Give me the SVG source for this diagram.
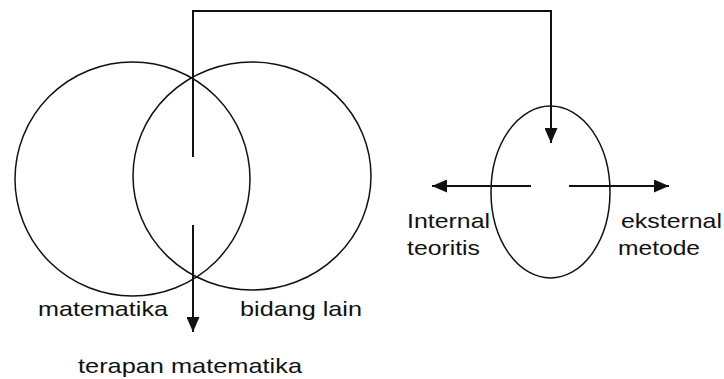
<svg xmlns="http://www.w3.org/2000/svg" width="724" height="379" viewBox="0 0 724 379">
<defs>
<style>
.shape{fill:none;stroke:#111;stroke-width:1.5}
.conn{fill:none;stroke:#111;stroke-width:2}
text{font-family:"Liberation Sans",Arial,sans-serif;font-size:21px;fill:#111}
</style>
<marker id="arr" markerUnits="userSpaceOnUse" markerWidth="15" markerHeight="13" refX="15" refY="6.5" orient="auto">
<path d="M0,0 L15,6.5 L0,13 z" fill="#111"/>
</marker>
</defs>
<rect width="724" height="379" fill="#fff"/>
<g id="matematika">
<ellipse class="shape" cx="132.5" cy="179" rx="117.5" ry="117"/>
<text x="38" y="316" textLength="130" lengthAdjust="spacingAndGlyphs">matematika</text>
</g>
<g id="bidang-lain">
<ellipse class="shape" cx="252" cy="176" rx="119" ry="114"/>
<text x="240" y="316" textLength="122" lengthAdjust="spacingAndGlyphs">bidang lain</text>
</g>
<g id="terapan">
<text x="78" y="373" textLength="224" lengthAdjust="spacingAndGlyphs">terapan matematika</text>
</g>
<g id="ellipse-kecil">
<ellipse class="shape" cx="550.5" cy="192" rx="59.5" ry="86"/>
</g>
<g id="internal">
<text x="407" y="228" textLength="83" lengthAdjust="spacingAndGlyphs">Internal</text>
<text x="407" y="255" textLength="73" lengthAdjust="spacingAndGlyphs">teoritis</text>
</g>
<g id="eksternal">
<text x="621" y="228" textLength="101" lengthAdjust="spacingAndGlyphs">eksternal</text>
<text x="618" y="255" textLength="82" lengthAdjust="spacingAndGlyphs">metode</text>
</g>
<g id="connectors">
<polyline class="conn" points="193,157 193,11 551,11 551,143" marker-end="url(#arr)"/>
<line class="conn" x1="193" y1="225" x2="193" y2="332" marker-end="url(#arr)"/>
<line class="conn" x1="531" y1="186" x2="432" y2="186" marker-end="url(#arr)"/>
<line class="conn" x1="569" y1="186" x2="669" y2="186" marker-end="url(#arr)"/>
</g>
</svg>
